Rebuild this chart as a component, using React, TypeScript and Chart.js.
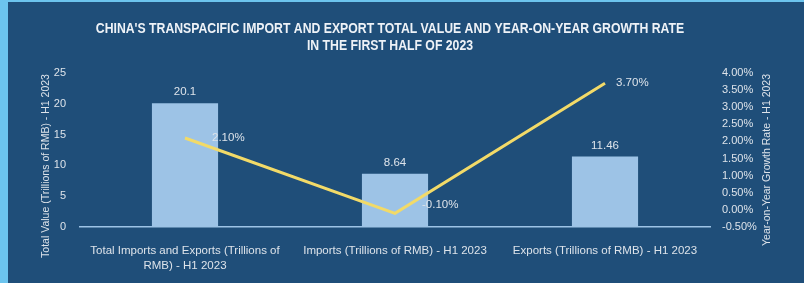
import React, { useEffect, useRef } from "react";
import { Chart, registerables } from "chart.js";

Chart.register(...registerables);

const categories = [
  ["Total Imports and Exports (Trillions of", "RMB) - H1 2023"],
  "Imports (Trillions of RMB) - H1 2023",
  "Exports (Trillions of RMB) - H1 2023",
];
const totalValues = [20.1, 8.64, 11.46];
const growthRates = [2.1, -0.1, 3.7];
const titleLines = [
  "CHINA'S TRANSPACIFIC IMPORT AND EXPORT TOTAL VALUE AND YEAR-ON-YEAR GROWTH RATE",
  "IN THE FIRST HALF OF 2023",
];
const leftAxisTitle = "Total Value (Trillions of RMB) - H1 2023";
const rightAxisTitle = "Year-on-Year Growth Rate - H1 2023";

const BORDER_BLUE = "#6CC4EE";
const PANEL_BLUE = "#1F4E79";
const BAR_BLUE = "#9DC3E6";
const LINE_YELLOW = "#F2DA68";
const TEXT = "#DDE3EA";
const FONT = "'Liberation Sans', Arial, sans-serif";
const lineLabelDx = [27, 27, 11];
const lineLabelDy = [0, -8, 0];

const decorPlugin = {
  id: "decor",
  beforeDraw(chart: any) {
    const { ctx, width, height } = chart;
    ctx.save();
    ctx.fillStyle = BORDER_BLUE;
    ctx.fillRect(0, 0, width, height);
    ctx.fillStyle = PANEL_BLUE;
    ctx.fillRect(8, 2, width - 8, height - 2);
    ctx.restore();
  },
  afterDraw(chart: any) {
    const { ctx } = chart;
    ctx.save();
    // title (condensed by horizontal scaling)
    ctx.fillStyle = "#EEF2F7";
    ctx.font = `bold 14px ${FONT}`;
    ctx.textAlign = "center";
    ctx.textBaseline = "middle";
    ctx.save();
    ctx.translate(390, 0);
    ctx.scale(0.875, 1);
    ctx.fillText(titleLines[0], 0, 29);
    ctx.fillText(titleLines[1], 0, 46);
    ctx.restore();

    // axis titles
    ctx.fillStyle = TEXT;
    ctx.font = `10.5px ${FONT}`;
    ctx.save();
    ctx.translate(46, 166);
    ctx.rotate(-Math.PI / 2);
    ctx.fillText(leftAxisTitle, 0, 0);
    ctx.restore();
    ctx.save();
    ctx.translate(767, 160);
    ctx.rotate(-Math.PI / 2);
    ctx.fillText(rightAxisTitle, 0, 0);
    ctx.restore();

    // data labels
    ctx.font = `11.5px ${FONT}`;
    const barMeta = chart.getDatasetMeta(1);
    barMeta.data.forEach((el: any, i: number) => {
      ctx.textAlign = "center";
      ctx.textBaseline = "middle";
      ctx.fillText(String(totalValues[i]), el.x, el.y - 11);
    });
    const lineMeta = chart.getDatasetMeta(0);
    lineMeta.data.forEach((el: any, i: number) => {
      ctx.textAlign = "left";
      ctx.textBaseline = "middle";
      ctx.fillText(
        growthRates[i].toFixed(2) + "%",
        el.x + lineLabelDx[i],
        el.y + lineLabelDy[i]
      );
    });
    ctx.restore();
  },
};

export default function App() {
  const ref = useRef<HTMLCanvasElement>(null);
  useEffect(() => {
    if (!ref.current) return;
    const chart = new Chart(ref.current, {
      data: {
        labels: categories as any,
        datasets: [
          {
            type: "line",
            label: "Growth",
            data: growthRates,
            yAxisID: "y1",
            borderColor: LINE_YELLOW,
            borderWidth: 3,
            pointRadius: 0,
            tension: 0,
            order: 0,
          },
          {
            type: "bar",
            label: "Total",
            data: totalValues,
            yAxisID: "y",
            backgroundColor: BAR_BLUE,
            barPercentage: 0.315,
            categoryPercentage: 1,
            order: 1,
          },
        ],
      } as any,
      options: {
        animation: false,
        responsive: false,
        devicePixelRatio: 1,
        layout: { padding: { top: 73, left: 0, right: 0, bottom: 0 } },
        plugins: {
          legend: { display: false },
          tooltip: { enabled: false },
          title: { display: false },
        },
        scales: {
          x: {
            offset: true,
            grid: { display: false },
            border: { display: true, color: BAR_BLUE, width: 1.5 },
            ticks: {
              color: TEXT,
              font: { family: FONT, size: 11.5, lineHeight: 1.3 },
              padding: 8,
              maxRotation: 0,
              autoSkip: false,
            },
            afterFit: (s: any) => {
              s.height = 56;
            },
          },
          y: {
            position: "left",
            min: 0,
            max: 25,
            grid: { display: false, drawTicks: false },
            border: { display: false },
            ticks: {
              stepSize: 5,
              color: TEXT,
              font: { family: FONT, size: 11 },
              padding: 14,
            },
            afterFit: (s: any) => {
              s.width = 80;
            },
          },
          y1: {
            position: "right",
            min: -0.5,
            max: 4,
            grid: { display: false, drawTicks: false },
            border: { display: false },
            ticks: {
              stepSize: 0.5,
              color: TEXT,
              font: { family: FONT, size: 11 },
              padding: 12,
              callback: (v: any) => Number(v).toFixed(2) + "%",
            },
            afterFit: (s: any) => {
              s.width = 94;
            },
          },
        },
      } as any,
      plugins: [decorPlugin],
    });
    return () => chart.destroy();
  }, []);
  return (
    <div style={{ position: "fixed", left: 0, top: 0, width: 804, height: 283 }}>
      <canvas ref={ref} width={804} height={283} style={{ display: "block" }} />
    </div>
  );
}
